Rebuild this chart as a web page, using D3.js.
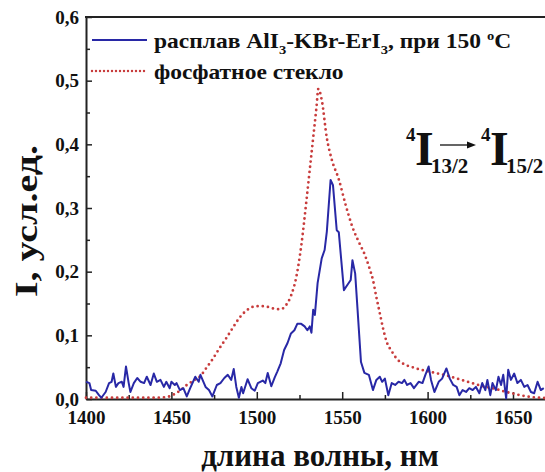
<!DOCTYPE html>
<html>
<head>
<meta charset="utf-8">
<script src="https://cdn.jsdelivr.net/npm/d3@7"></script>
<style>
  body { margin: 0; background: #fff; }
  svg text { font-family: "Liberation Serif", "Times New Roman", serif; font-weight: bold; fill: #111; }
</style>
</head>
<body>
<svg id="chart" width="545" height="472"></svg>
<script>
// Luminescence spectra, 4I13/2 -> 4I15/2

// melt AlI3-KBr-ErI3 at 150 C (blue line)
var meltWl = [1400, 1402, 1403, 1405.7, 1407.6, 1409, 1411.5, 1413.5, 1415, 1416, 1417.5, 1419, 1421, 1422,
  1423.4, 1425, 1426, 1428, 1430, 1432, 1434, 1435.6, 1437.8, 1439.7, 1441.5, 1443.6, 1445.6, 1447, 1449,
  1450, 1452, 1453, 1455, 1457, 1459, 1461, 1464, 1466, 1467, 1470, 1472, 1474, 1476.6, 1478.7, 1481,
  1483, 1485, 1486.5, 1488, 1489.5, 1491, 1492, 1494.6, 1496.8, 1498.8, 1500.6, 1503.5, 1505, 1506.4,
  1508.5, 1510.5, 1512, 1514, 1516, 1518, 1520, 1522, 1523.7, 1526, 1528, 1529.6, 1531, 1532, 1533, 1534,
  1535.6, 1538, 1539.7, 1541, 1543.2, 1544.6, 1546.8, 1548, 1551, 1553, 1555, 1556, 1557.6, 1559, 1561,
  1563, 1565.6, 1568, 1570, 1572, 1573.4, 1575, 1577, 1579, 1581, 1583, 1585, 1586.4, 1588, 1590, 1592,
  1594.8, 1597, 1598.7, 1600.6, 1602, 1604, 1606.5, 1608.5, 1611, 1613, 1615, 1617, 1618.6, 1620.5,
  1622.5, 1624.4, 1626.4, 1628.3, 1630.3, 1632, 1633.8, 1635, 1636.7, 1638, 1640, 1641.5, 1643, 1644.3,
  1646, 1647.2, 1648.8, 1650.7, 1652.6, 1654.6, 1656.6, 1658.5, 1660.5, 1662.4, 1664.4, 1666.3, 1668];
var meltI = [0.027, 0.025, 0.014, 0.013, 0.006, 0.002, 0.011, 0.025, 0.027, 0.040, 0.019, 0.025, 0.027, 0.019,
  0.051, 0.025, 0.011, 0.025, 0.033, 0.027, 0.025, 0.035, 0.022, 0.040, 0.027, 0.030, 0.019, 0.027, 0.017,
  0.027, 0.022, 0.025, 0.014, 0.017, 0.004, 0.017, 0.035, 0.027, 0.038, 0.019, 0.014, 0.004, 0.022, 0.025, 0.033,
  0.038, 0.030, 0.047, 0.019, 0.002, 0.019, 0.009, 0.031, 0.017, 0.013, 0.025, 0.029, 0.025, 0.041,
  0.020, 0.034, 0.043, 0.056, 0.077, 0.088, 0.103, 0.108, 0.118, 0.118, 0.114, 0.108, 0.114, 0.104, 0.140, 0.132,
  0.182, 0.221, 0.234, 0.263, 0.344, 0.336, 0.265, 0.262, 0.171, 0.179, 0.187, 0.218, 0.197, 0.140, 0.058,
  0.041, 0.038, 0.014, 0.030, 0.035, 0.027, 0.032, 0.006, 0.025, 0.022, 0.027, 0.025, 0.030, 0.022, 0.025, 0.017,
  0.027, 0.025, 0.038, 0.051, 0.030, 0.011, 0.027, 0.032, 0.048, 0.032, 0.022, 0.019, 0.006, 0.014,
  0.011, 0.017, 0.014, 0.019, 0.009, 0.025, 0.014, 0.030, 0.006, 0.025, 0.014, 0.035, 0.022, 0.038,
  0.001, 0.046, 0.030, 0.040, 0.025, 0.030, 0.019, 0.022, 0.011, 0.009, 0.027, 0.014, 0.017];

// phosphate glass (red dotted line)
var glassWl = [1400, 1410, 1420, 1430, 1440, 1447, 1452, 1456, 1459, 1463, 1467, 1470, 1474, 1478, 1482, 1486,
  1490, 1494, 1498, 1502, 1506, 1510, 1514, 1517, 1520, 1523, 1526, 1529, 1531, 1533, 1535, 1536, 1538,
  1541, 1544, 1548, 1552, 1556, 1560, 1563, 1566, 1568, 1570, 1572, 1574, 1576, 1579, 1582, 1586, 1591,
  1596, 1601, 1606, 1611, 1616, 1621, 1626, 1631, 1636, 1641, 1646, 1651, 1656, 1661, 1666, 1672];
var glassI = [0.002, 0.002, 0.002, 0.002, 0.002, 0.003, 0.008, 0.015, 0.022, 0.029, 0.036, 0.047, 0.062, 0.079, 0.095, 0.112,
  0.128, 0.139, 0.145, 0.146, 0.145, 0.142, 0.141, 0.147, 0.162, 0.19, 0.24, 0.31, 0.36, 0.41, 0.46, 0.487, 0.47,
  0.41, 0.375, 0.345, 0.305, 0.27, 0.245, 0.228, 0.205, 0.187, 0.16, 0.135, 0.11, 0.09, 0.075, 0.063, 0.055, 0.05,
  0.046, 0.043, 0.04, 0.037, 0.033, 0.029, 0.025, 0.021, 0.018, 0.015, 0.011, 0.008, 0.005, 0.003, 0.002, 0.001];

var xTicks = [1400, 1450, 1500, 1550, 1600, 1650];
var xMinor = [1425, 1475, 1525, 1575, 1625, 1675];
var yTicks = [0, 0.1, 0.2, 0.3, 0.4, 0.5, 0.6];
var yMinor = [0.05, 0.15, 0.25, 0.35, 0.45, 0.55];

var legendNames = ["расплав AlI", "фосфатное стекло"];

var svg = d3.select("#chart");
var plotLeft = 86, plotTop = 17, plotBottom = 399;

// plot is cropped on the right, as in the original
var x = d3.scaleLinear().domain([1400, 1700]).range([plotLeft, plotLeft + 300 * 1.708]);
var y = d3.scaleLinear().domain([0, 0.6]).range([plotBottom, plotTop]);

var commaFmt = function (d) { return d3.format(".1f")(d).replace(".", ","); };

// axes, ticks pointing inwards
svg.append("g").attr("transform", "translate(0," + plotBottom + ")")
  .call(d3.axisBottom(x).tickValues(xTicks).tickSize(-7).tickSizeOuter(0).tickPadding(12).tickFormat(d3.format("d")));
svg.append("g").attr("transform", "translate(0," + plotBottom + ")")
  .call(d3.axisBottom(x).tickValues(xMinor).tickSize(-4).tickSizeOuter(0).tickFormat(""))
  .select(".domain").remove();
svg.append("g").attr("transform", "translate(" + plotLeft + ",0)")
  .call(d3.axisLeft(y).tickValues(yTicks).tickSize(-6).tickSizeOuter(0).tickPadding(7).tickFormat(commaFmt));
svg.append("g").attr("transform", "translate(" + plotLeft + ",0)")
  .call(d3.axisLeft(y).tickValues(yMinor).tickSize(-4).tickSizeOuter(0).tickFormat(""))
  .select(".domain").remove();

svg.selectAll(".domain").attr("stroke", "#222").attr("stroke-width", 2);
svg.selectAll(".tick line").attr("stroke", "#222").attr("stroke-width", 1.5);
svg.selectAll(".tick text").style("font-size", "19px")
  .style("font-family", "'Liberation Serif', 'Times New Roman', serif").style("font-weight", "bold").attr("fill", "#111");

// top border of the frame
svg.append("line").attr("x1", plotLeft - 1).attr("x2", 560).attr("y1", plotTop).attr("y2", plotTop)
  .attr("stroke", "#222").attr("stroke-width", 2);

var line = d3.line().x(function (d) { return x(d[0]); }).y(function (d) { return y(d[1]); });
var smooth = d3.line().curve(d3.curveMonotoneX).x(function (d) { return x(d[0]); }).y(function (d) { return y(d[1]); });

svg.append("path")
  .datum(d3.zip(glassWl, glassI))
  .attr("d", smooth)
  .attr("fill", "none").attr("stroke", "#c83c3c").attr("stroke-width", 2.8)
  .attr("stroke-linecap", "round").attr("stroke-dasharray", "0 5.2");

svg.append("path")
  .datum(d3.zip(meltWl, meltI))
  .attr("d", line)
  .attr("fill", "none").attr("stroke", "#2828a6").attr("stroke-width", 2)
  .attr("stroke-linejoin", "round");

// legend
var lg = svg.append("g");
lg.append("line").attr("x1", 92).attr("x2", 147).attr("y1", 40).attr("y2", 40)
  .attr("stroke", "#2828a6").attr("stroke-width", 2);
lg.append("line").attr("x1", 92).attr("x2", 147).attr("y1", 71).attr("y2", 71)
  .attr("stroke", "#c83c3c").attr("stroke-width", 2.4)
  .attr("stroke-linecap", "round").attr("stroke-dasharray", "0 4");

// the original lettering is a bit wider than Liberation Serif
var t1 = lg.append("text").attr("transform", "translate(154,48) scale(1.12,1)").style("font-size", "21px");
t1.append("tspan").text(legendNames[0]);
t1.append("tspan").attr("dy", 6).style("font-size", "13px").text("3");
t1.append("tspan").attr("dy", -6).text("-KBr-ErI");
t1.append("tspan").attr("dy", 6).style("font-size", "13px").text("3");
t1.append("tspan").attr("dy", -6).text(", при 150 ");
t1.append("tspan").attr("dy", -8).style("font-size", "13px").text("o");
t1.append("tspan").attr("dy", 8).text("C");

lg.append("text").attr("transform", "translate(154,79) scale(1.12,1)").style("font-size", "21px").text(legendNames[1]);

// transition label 4I13/2 -> 4I15/2
var ann = svg.append("g");
ann.append("text").attr("x", 406).attr("y", 141).style("font-size", "19px").text("4");
ann.append("text").attr("x", 415).attr("y", 165).style("font-size", "48px").text("I");
ann.append("text").attr("x", 431).attr("y", 173).style("font-size", "21px").text("13/2");
ann.append("line").attr("x1", 440).attr("x2", 470).attr("y1", 145).attr("y2", 145)
  .attr("stroke", "#111").attr("stroke-width", 1.3);
ann.append("path").attr("d", "M476,145 L467,141.5 L467,148.5 Z").attr("fill", "#111");
ann.append("text").attr("x", 481).attr("y", 141).style("font-size", "19px").text("4");
ann.append("text").attr("x", 490).attr("y", 165).style("font-size", "48px").text("I");
ann.append("text").attr("x", 506).attr("y", 173).style("font-size", "21px").text("15/2");

// axis titles
svg.append("text").attr("text-anchor", "middle")
  .attr("transform", "translate(37,221) rotate(-90)")
  .attr("textLength", 152).attr("lengthAdjust", "spacingAndGlyphs")
  .style("font-size", "32px").text("I, усл.ед.");
svg.append("text").attr("text-anchor", "middle").attr("x", 320).attr("y", 466)
  .style("font-size", "31px").text("длина волны, нм");
</script>
</body>
</html>
